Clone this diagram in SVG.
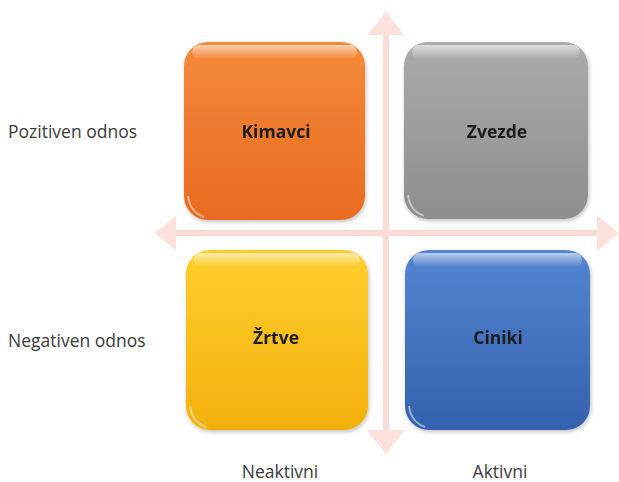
<svg xmlns="http://www.w3.org/2000/svg" width="619" height="482" viewBox="0 0 619 482">
<defs>
<linearGradient id="gO" x1="0" y1="0" x2="0" y2="1"><stop offset="0" stop-color="#f58a3b"/><stop offset="1" stop-color="#e86b1f"/></linearGradient>
<linearGradient id="gG" x1="0" y1="0" x2="0" y2="1"><stop offset="0" stop-color="#ababab"/><stop offset="1" stop-color="#8e8e8e"/></linearGradient>
<linearGradient id="gY" x1="0" y1="0" x2="0" y2="1"><stop offset="0" stop-color="#ffcf2e"/><stop offset="1" stop-color="#f2b00c"/></linearGradient>
<linearGradient id="gB" x1="0" y1="0" x2="0" y2="1"><stop offset="0" stop-color="#5585d3"/><stop offset="1" stop-color="#3461ae"/></linearGradient>
<linearGradient id="gl" x1="0" y1="0" x2="0" y2="1"><stop offset="0" stop-color="#fff" stop-opacity="0.6"/><stop offset="1" stop-color="#fff" stop-opacity="0"/></linearGradient>
<filter id="sh" x="-10%" y="-10%" width="130%" height="130%"><feGaussianBlur in="SourceAlpha" stdDeviation="2"/><feOffset dx="1" dy="2"/><feComponentTransfer><feFuncA type="linear" slope="0.25"/></feComponentTransfer><feMerge><feMergeNode/><feMergeNode in="SourceGraphic"/></feMerge></filter>
</defs>
<style>
.lbl{font-family:"Open Sans","Liberation Sans",sans-serif;font-size:17.5px;fill:#3a3a3a}
.in{font-family:"Open Sans","Liberation Sans",sans-serif;font-size:17.5px;font-weight:bold;fill:#1e1e1e;text-anchor:middle}
.ax{fill:#fadad5}
.hd{fill:#fbe0dc}
.gloss{fill:url(#gl)}
.arc{fill:none;stroke:#fff;stroke-opacity:0.5;stroke-width:2}
</style>
<rect width="619" height="482" fill="#ffffff"/>
<g id="connectors">
<rect class="ax" x="383" y="28" width="6" height="410"/>
<path class="hd" d="M386 12 L404 35 L368 35 Z"/>
<path class="hd" d="M386 454 L405 430 L367 430 Z"/>
<rect class="ax" x="168" y="230" width="436" height="6"/>
<path class="hd" d="M155 233 L176 216 L176 250 Z"/>
<path class="hd" d="M619 233 L597 215 L597 251 Z"/>
</g>
<g id="kimavci" filter="url(#sh)">
<rect x="184" y="42" width="181" height="178" rx="24" fill="url(#gO)"/>
<rect class="gloss" x="192" y="45" width="165" height="14" rx="7"/>
<path class="arc" d="M188 196 Q190 212 204 217"/>
<text class="in" x="276" y="138">Kimavci</text>
</g>
<g id="zvezde" filter="url(#sh)">
<rect x="404" y="42" width="184" height="177" rx="24" fill="url(#gG)"/>
<rect class="gloss" x="412" y="45" width="168" height="14" rx="7"/>
<path class="arc" d="M408 195 Q410 211 424 216"/>
<text class="in" x="497" y="138">Zvezde</text>
</g>
<g id="zrtve" filter="url(#sh)">
<rect x="186" y="250" width="182" height="180" rx="24" fill="url(#gY)"/>
<rect class="gloss" x="194" y="253" width="166" height="14" rx="7"/>
<path class="arc" d="M190 406 Q192 422 206 427"/>
<text class="in" x="276" y="344">Žrtve</text>
</g>
<g id="ciniki" filter="url(#sh)">
<rect x="405" y="250" width="185" height="180" rx="24" fill="url(#gB)"/>
<rect class="gloss" x="413" y="253" width="169" height="14" rx="7"/>
<path class="arc" d="M409 406 Q411 422 425 427"/>
<text class="in" x="498" y="344">Ciniki</text>
</g>
<text class="lbl" x="8" y="138">Pozitiven odnos</text>
<text class="lbl" x="8" y="347">Negativen odnos</text>
<text class="lbl" x="280" y="478" text-anchor="middle">Neaktivni</text>
<text class="lbl" x="500" y="478" text-anchor="middle">Aktivni</text>
</svg>
